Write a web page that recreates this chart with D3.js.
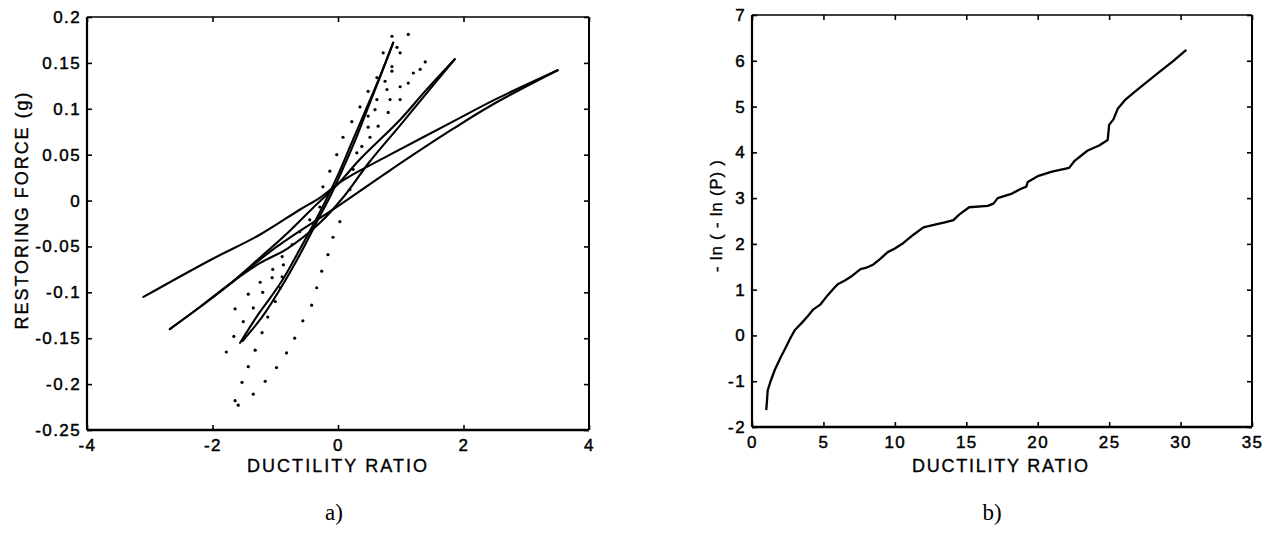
<!DOCTYPE html>
<html><head><meta charset="utf-8">
<script src="https://cdn.jsdelivr.net/npm/d3@7"></script>
<style>
html,body{margin:0;padding:0;background:#fff;}
svg{display:block;}
</style></head>
<body>
<svg id="chart" width="1267" height="537"></svg>
<script>
// ---------- Panel a) data ----------
const aXTicks = [-4, -2, 0, 2, 4];
const aXTickLabels = ["-4", "-2", "0", "2", "4"];
const aYTicks = [0.2, 0.15, 0.1, 0.05, 0, -0.05, -0.1, -0.15, -0.2, -0.25];
const aYTickLabels = ["0.2", "0.15", "0.1", "0.05", "0", "-0.05", "-0.1", "-0.15", "-0.2", "-0.25"];
// solid hysteresis branches [ductility, force]
const steepUp = [[-1.56,-0.155],[-1.3,-0.127],[-1.08,-0.106],[-0.88,-0.086],[-0.6,-0.052],[-0.3,-0.014],[0.0,0.028],[0.2,0.06],[0.45,0.1],[0.65,0.132],[0.88,0.172]];
const steepDown = [[0.88,0.172],[0.7,0.14],[0.5,0.105],[0.3,0.07],[0.1,0.038],[-0.1,0.008],[-0.35,-0.025],[-0.6,-0.058],[-0.9,-0.094],[-1.2,-0.126],[-1.52,-0.153]];
const mediumUp = [[-2.68,-0.14],[-2.2,-0.116],[-1.67,-0.088],[-1.24,-0.062],[-0.8,-0.035],[-0.4,-0.008],[0.0,0.018],[0.35,0.045],[0.99,0.088],[1.4,0.12],[1.86,0.154]];
const mediumDown = [[1.86,0.154],[1.4,0.116],[0.99,0.082],[0.5,0.042],[0.1,0.005],[-0.3,-0.025],[-0.8,-0.052],[-1.24,-0.068],[-1.67,-0.088],[-2.2,-0.116],[-2.68,-0.14]];
const longUpper = [[-3.1,-0.105],[-2.04,-0.065],[-1.24,-0.037],[-0.61,-0.010],[-0.29,0.003],[0.08,0.022],[0.83,0.05],[1.83,0.086],[2.5,0.110],[3.5,0.142]];
const longLower = [[3.5,0.142],[2.5,0.106],[1.83,0.078],[0.83,0.033],[0.0,-0.006],[-0.97,-0.050],[-1.67,-0.088]];
// dotted series
const dots = [[-1.78,-0.165],[-1.66,-0.148],[-1.64,-0.118],[-1.51,-0.132],[-1.43,-0.102],[-1.35,-0.117],[-1.24,-0.089],[-1.2,-0.100],[-1.12,-0.127],[-1.0,-0.110],[-1.21,-0.144],[-1.32,-0.163],[-1.43,-0.181],[-1.53,-0.198],[-1.64,-0.218],[-1.59,-0.223],[-1.35,-0.211],[-1.16,-0.197],[-0.98,-0.182],[-0.82,-0.166],[-0.69,-0.150],[-0.56,-0.131],[-0.42,-0.114],[-0.34,-0.095],[-0.26,-0.077],[-0.16,-0.059],[-0.08,-0.040],[0.03,-0.023],[-0.92,-0.095],[-0.89,-0.083],[-0.87,-0.070],[-1.05,-0.084],[-1.04,-0.075],[-0.89,-0.061],[-0.73,-0.048],[-0.61,-0.034],[-0.45,-0.021],[-0.29,-0.007],[-0.24,0.015],[-0.13,0.032],[-0.02,0.050],[0.19,0.012],[0.24,0.034],[0.3,0.052],[0.08,0.069],[0.22,0.086],[0.35,0.102],[0.48,0.119],[0.62,0.134],[0.72,0.161],[0.86,0.179],[1.12,0.181],[0.94,0.167],[0.99,0.161],[0.86,0.146],[0.86,0.141],[0.75,0.130],[0.78,0.121],[0.62,0.110],[0.83,0.110],[0.99,0.110],[0.59,0.099],[0.8,0.096],[0.48,0.092],[0.64,0.081],[0.48,0.080],[0.51,0.069],[0.38,0.059],[0.99,0.124],[1.12,0.128],[1.2,0.139],[1.31,0.143],[1.39,0.151]];

// ---------- Panel b) data ----------
const bXTicks = [0, 5, 10, 15, 20, 25, 30, 35];
const bXTickLabels = ["0", "5", "10", "15", "20", "25", "30", "35"];
const bYTicks = [7, 6, 5, 4, 3, 2, 1, 0, -1, -2];
const bYTickLabels = ["7", "6", "5", "4", "3", "2", "1", "0", "-1", "-2"];
const ductility = [1.0,1.1,1.3,1.6,2.0,2.3,2.7,3.0,3.5,3.9,4.3,4.8,5.3,5.7,6.0,6.5,7.0,7.6,8.0,8.5,9.0,9.5,10.0,10.6,11.3,12.0,12.8,13.5,14.1,14.5,15.2,16.5,16.9,17.2,18.2,18.8,19.2,19.3,20.0,21.0,22.2,22.6,23.5,24.3,24.9,25.0,25.3,25.6,26.1,26.7,27.5,28.5,29.5,30.4];
const lnlnP = [-1.63,-1.2,-1.0,-0.75,-0.48,-0.3,-0.05,0.12,0.28,0.42,0.57,0.68,0.88,1.02,1.12,1.2,1.3,1.45,1.48,1.55,1.68,1.82,1.9,2.02,2.2,2.36,2.42,2.47,2.52,2.64,2.8,2.83,2.88,3.0,3.1,3.2,3.25,3.35,3.48,3.58,3.66,3.82,4.04,4.15,4.27,4.6,4.72,4.95,5.14,5.3,5.5,5.75,6.0,6.24];

const SANS = '"Liberation Sans", Arial, Helvetica, sans-serif';
const SERIF = '"Liberation Serif", "Times New Roman", serif';
const svg = d3.select("#chart");

function panel(opt) {
  const {x0, x1, y0, y1, xDom, yDom, xTicks, xLabels, yTicks, yLabels} = opt;
  const x = d3.scaleLinear().domain(xDom).range([x0, x1]);
  const y = d3.scaleLinear().domain(yDom).range([y1, y0]);
  const g = svg.append("g");
  const tk = 5;
  const bx = g.append("g").attr("transform", `translate(0,${y1})`)
    .call(d3.axisBottom(x).tickValues(xTicks).tickSize(-tk).tickSizeOuter(0).tickPadding(9)
      .tickFormat((d, i) => xLabels[i]));
  const tx = g.append("g").attr("transform", `translate(0,${y0})`)
    .call(d3.axisTop(x).tickValues(xTicks).tickSize(-tk).tickSizeOuter(0).tickFormat(""));
  const ly = g.append("g").attr("transform", `translate(${x0},0)`)
    .call(d3.axisLeft(y).tickValues(yTicks).tickSize(-tk).tickSizeOuter(0).tickPadding(6)
      .tickFormat((d, i) => yLabels[i]));
  const ry = g.append("g").attr("transform", `translate(${x1},0)`)
    .call(d3.axisRight(y).tickValues(yTicks).tickSize(-tk).tickSizeOuter(0).tickFormat(""));
  [bx, tx, ly, ry].forEach(a => {
    a.select(".domain").remove();
    a.selectAll(".tick line").attr("stroke", "#000").attr("stroke-width", 1.6);
    a.selectAll("text").style("font-family", SANS)
      .style("font-size", "17px").style("letter-spacing", "1.4px").attr("fill", "#000")
      .attr("stroke", "#000").attr("stroke-width", 0.45);
  });
  bx.selectAll("text").attr("dy", "0.71em");
  g.append("line").attr("x1", x0).attr("x2", x1).attr("y1", y1).attr("y2", y1).attr("stroke", "#000").attr("stroke-width", 2.4);
  g.append("line").attr("x1", x0).attr("x2", x0).attr("y1", y0).attr("y2", y1).attr("stroke", "#000").attr("stroke-width", 2.2);
  g.append("line").attr("x1", x0).attr("x2", x1).attr("y1", y0).attr("y2", y0).attr("stroke", "#000").attr("stroke-width", 1.6);
  g.append("line").attr("x1", x1).attr("x2", x1).attr("y1", y0).attr("y2", y1).attr("stroke", "#000").attr("stroke-width", 2);
  return {g, x, y};
}

function label(g, txt, cx, cy, len, rotate, size) {
  const t = g.append("text").text(txt)
    .attr("text-anchor", "middle")
    .style("font-family", SANS).style("font-size", size + "px")
    .attr("fill", "#000").attr("stroke", "#000").attr("stroke-width", 0.35)
    .attr("textLength", len).attr("lengthAdjust", "spacing");
  if (rotate) t.attr("transform", `translate(${cx},${cy}) rotate(-90)`);
  else t.attr("x", cx).attr("y", cy);
  return t;
}

// ---------- Panel a ----------
const A = panel({x0: 87, x1: 589, y0: 17, y1: 430, xDom: [-4, 4], yDom: [-0.25, 0.2],
  xTicks: aXTicks, xLabels: aXTickLabels, yTicks: aYTicks, yLabels: aYTickLabels});
const lineA = d3.line().x(d => A.x(d[0])).y(d => A.y(d[1])).curve(d3.curveCatmullRom.alpha(0.5));
[steepUp, steepDown, mediumUp, mediumDown, longUpper, longLower].forEach(br => {
  A.g.append("path").attr("d", lineA(br)).attr("fill", "none").attr("stroke", "#000")
    .attr("stroke-width", 2.1).attr("stroke-linejoin", "round").attr("stroke-linecap", "round");
});
A.g.append("g").selectAll("circle").data(dots).join("circle")
  .attr("cx", d => A.x(d[0])).attr("cy", d => A.y(d[1])).attr("r", 1.6).attr("fill", "#000");
label(A.g, "DUCTILITY RATIO", 337, 472, 180, false, 18);
label(A.g, "RESTORING FORCE (g)", 28, 211, 237, true, 18);
A.g.append("text").text("a)").attr("x", 334).attr("y", 520).attr("text-anchor", "middle")
  .style("font-family", SERIF).style("font-size", "23px").attr("fill", "#000");

// ---------- Panel b ----------
const B = panel({x0: 752, x1: 1252, y0: 15, y1: 427, xDom: [0, 35], yDom: [-2, 7],
  xTicks: bXTicks, xLabels: bXTickLabels, yTicks: bYTicks, yLabels: bYTickLabels});
const bData = ductility.map((d, i) => [d, lnlnP[i]]);
B.g.append("path").attr("d", d3.line().x(d => B.x(d[0])).y(d => B.y(d[1]))(bData))
  .attr("fill", "none").attr("stroke", "#000").attr("stroke-width", 2.3).attr("stroke-linejoin", "round");
label(B.g, "DUCTILITY RATIO", 1000, 472, 176, false, 18);
label(B.g, "- ln ( - ln (P) )", 722, 216, 112, true, 17);
B.g.append("text").text("b)").attr("x", 992).attr("y", 520).attr("text-anchor", "middle")
  .style("font-family", SERIF).style("font-size", "23px").attr("fill", "#000");
</script>
</body></html>
